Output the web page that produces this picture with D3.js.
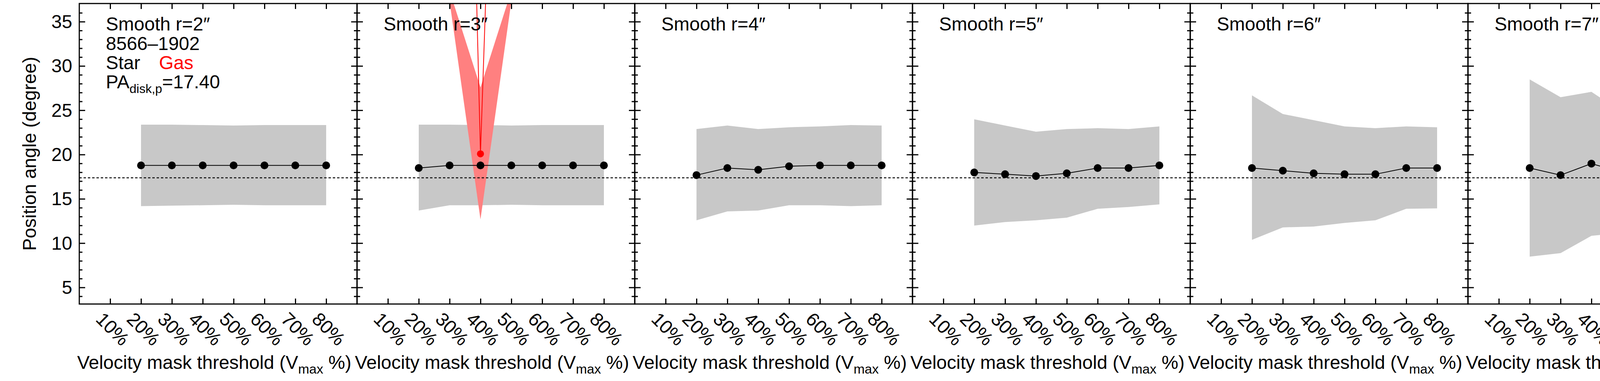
<!DOCTYPE html>
<html>
<head>
<meta charset="utf-8">
<script src="https://cdn.jsdelivr.net/npm/d3@7"></script>
<style>
  body { margin: 0; background: #fff; }
  text { font-family: "Liberation Sans", Arial, sans-serif; }
</style>
</head>
<body>
<div id="chart"></div>
<script>
// Data
const thresholds = [2, 3, 4, 5, 6, 7, 8];          // x index: 20% .. 80%
const tickIdx = [1, 2, 3, 4, 5, 6, 7, 8];
const tickLabels = ["10%", "20%", "30%", "40%", "50%", "60%", "70%", "80%"];
const smoothLabels = ["2", "3", "4", "5", "6", "7"];
const paDisk = 17.40;

const starPA = [
  [18.8, 18.8, 18.8, 18.8, 18.8, 18.8, 18.8],
  [18.5, 18.8, 18.8, 18.8, 18.8, 18.8, 18.8],
  [17.7, 18.5, 18.3, 18.7, 18.8, 18.8, 18.8],
  [18.0, 17.8, 17.6, 17.9, 18.5, 18.5, 18.8],
  [18.5, 18.2, 17.9, 17.8, 17.8, 18.5, 18.5],
  [18.5, 17.7, 19.0, 18.0, 17.8, 18.05, 17.6]
];
const starUpper = [
  [23.4, 23.4, 23.35, 23.3, 23.35, 23.35, 23.35],
  [23.4, 23.4, 23.35, 23.3, 23.35, 23.35, 23.35],
  [22.9, 23.3, 22.9, 23.1, 23.2, 23.35, 23.3],
  [24.0, 23.3, 22.6, 22.9, 23.0, 22.9, 23.2],
  [26.7, 24.6, 23.9, 23.2, 23.0, 23.2, 23.1],
  [28.5, 26.5, 27.1, 24.8, 24.2, 23.9, 22.9]
];
const starLower = [
  [14.2, 14.25, 14.3, 14.35, 14.3, 14.3, 14.3],
  [13.7, 14.3, 14.3, 14.35, 14.3, 14.3, 14.3],
  [12.6, 13.6, 13.7, 14.3, 14.3, 14.2, 14.3],
  [12.0, 12.4, 12.6, 12.9, 13.9, 14.1, 14.4],
  [10.4, 11.8, 11.9, 12.3, 12.6, 13.9, 13.95],
  [8.5, 8.9, 10.85, 11.2, 11.4, 12.1, 12.3]
];
// Gas (only panel 2, r=3"), neighbours far off scale
const gasPanel = 1;
const gasX = [3, 4, 5];
const gasPA = [159, 20.1, 123];
const gasUpper = [38.5, 27.6, 38.5];
const gasLower = [37.3, 12.7, 37.3];

const W = 4500, H = 975;
const panelLeft = 203, panelW = 711, plotTop = 9, plotBottom = 778;

const svg = d3.select("#chart").append("svg")
  .attr("width", W).attr("height", H);

const y = d3.scaleLinear().domain([3.15, 37.07]).range([plotBottom, plotTop]);

smoothLabels.forEach((s, p) => {
  const x0 = panelLeft + p * panelW;
  const x = d3.scaleLinear().domain([0, 9]).range([x0, x0 + panelW]);
  const g = svg.append("g");

  g.append("clipPath").attr("id", "clip" + p)
    .append("rect").attr("x", x0).attr("y", plotTop)
    .attr("width", panelW).attr("height", plotBottom - plotTop);
  const inner = g.append("g").attr("clip-path", `url(#clip${p})`);

  // star band
  const rows = thresholds.map((t, i) => ({ t, v: starPA[p][i], lo: starLower[p][i], hi: starUpper[p][i] }));
  inner.append("path").datum(rows)
    .attr("fill", "#c8c8c8")
    .attr("d", d3.area().x(d => x(d.t)).y0(d => y(d.lo)).y1(d => y(d.hi)));

  // gas band
  if (p === gasPanel) {
    const gr = gasX.map((t, i) => ({ t, v: gasPA[i], lo: gasLower[i], hi: gasUpper[i] }));
    inner.append("path").datum(gr)
      .attr("fill", "#ff8080")
      .attr("d", d3.area().x(d => x(d.t)).y0(d => y(d.lo)).y1(d => y(d.hi)));
    inner.append("path").datum(gr)
      .attr("fill", "none").attr("stroke", "red").attr("stroke-width", 2)
      .attr("d", d3.line().x(d => x(d.t)).y(d => y(d.v)));
    inner.selectAll(".gdot").data(gr).enter().append("circle")
      .attr("cx", d => x(d.t)).attr("cy", d => y(d.v)).attr("r", 9).attr("fill", "red");
  }

  // reference PA line
  inner.append("line")
    .attr("x1", x0).attr("x2", x0 + panelW)
    .attr("y1", y(paDisk)).attr("y2", y(paDisk))
    .attr("stroke", "#000").attr("stroke-width", 2.5).attr("stroke-dasharray", "6,5");

  // star line + dots
  inner.append("path").datum(rows)
    .attr("fill", "none").attr("stroke", "#000").attr("stroke-width", 2)
    .attr("d", d3.line().x(d => x(d.t)).y(d => y(d.v)));
  inner.selectAll(".sdot").data(rows).enter().append("circle")
    .attr("cx", d => x(d.t)).attr("cy", d => y(d.v)).attr("r", 10).attr("fill", "#000");

  // y ticks on both sides, inward
  const yMinor = d3.range(4, 37);
  const tickLen = v => (v % 5 === 0 ? 15 : 8);
  [[x0, 1], [x0 + panelW, -1]].forEach(([xx, dir]) => {
    g.selectAll(null).data(yMinor).enter().append("line")
      .attr("x1", xx).attr("x2", d => xx + dir * tickLen(d))
      .attr("y1", d => y(d)).attr("y2", d => y(d))
      .attr("stroke", "#000").attr("stroke-width", 3);
  });
  const axB = d3.axisBottom(x).tickValues(tickIdx).tickSizeInner(-14).tickSizeOuter(0)
    .tickFormat((d, i) => tickLabels[i]);
  const bAx = g.append("g").attr("transform", `translate(0,${plotBottom})`).call(axB);
  bAx.select(".domain").remove();
  bAx.selectAll("line").attr("stroke-width", 3);
  bAx.selectAll("text")
    .attr("y", 0).attr("dy", 0)
    .attr("transform", "translate(6,64) rotate(45)")
    .attr("text-anchor", "middle").attr("dominant-baseline", "central")
    .style("font-size", "48px").attr("fill", "#000");
  const tAx = g.append("g").attr("transform", `translate(0,${plotTop})`)
    .call(d3.axisTop(x).tickValues(tickIdx).tickSizeInner(-14).tickSizeOuter(0).tickFormat(""));
  tAx.select(".domain").remove();
  tAx.selectAll("line").attr("stroke-width", 3);

  g.append("rect").attr("x", x0).attr("y", plotTop).attr("width", panelW).attr("height", plotBottom - plotTop)
    .attr("fill", "none").attr("stroke", "#000").attr("stroke-width", 3);

  if (p === 0) {
    const lAx = g.append("g").attr("transform", `translate(${x0},0)`)
      .call(d3.axisLeft(y).tickValues([5, 10, 15, 20, 25, 30, 35]).tickSize(0).tickPadding(18));
    lAx.select(".domain").remove();
    lAx.selectAll("text").style("font-size", "48px").attr("fill", "#000");
    svg.append("text")
      .attr("transform", `translate(92,${(plotTop + plotBottom) / 2}) rotate(-90)`)
      .attr("text-anchor", "middle").style("font-size", "48px")
      .text("Position angle (degree)");
  }

  // x title
  const xt = svg.append("text").attr("x", x0 + panelW / 2 - 10).attr("y", 944)
    .attr("text-anchor", "middle").style("font-size", "48px");
  xt.append("tspan").text("Velocity mask threshold (V");
  xt.append("tspan").attr("dy", 12).style("font-size", "34px").text("max");
  xt.append("tspan").attr("dy", -12).text(" %)");

  // panel label
  g.append("text").attr("x", x0 + 68).attr("y", 78).style("font-size", "48px")
    .text(`Smooth r=${s}\u2033`);
});

// legend block in first panel
const lx = panelLeft + 68;
svg.append("text").attr("x", lx).attr("y", 128).style("font-size", "48px").text("8566\u20131902");
svg.append("text").attr("x", lx).attr("y", 177).style("font-size", "48px").text("Star");
svg.append("text").attr("x", lx + 136).attr("y", 177).style("font-size", "48px").attr("fill", "red").text("Gas");
const pa = svg.append("text").attr("x", lx).attr("y", 226).style("font-size", "48px");
pa.append("tspan").text("PA");
pa.append("tspan").attr("dy", 12).style("font-size", "32px").text("disk,p");
pa.append("tspan").attr("dy", -12).text("=" + paDisk.toFixed(2));
</script>
</body>
</html>
